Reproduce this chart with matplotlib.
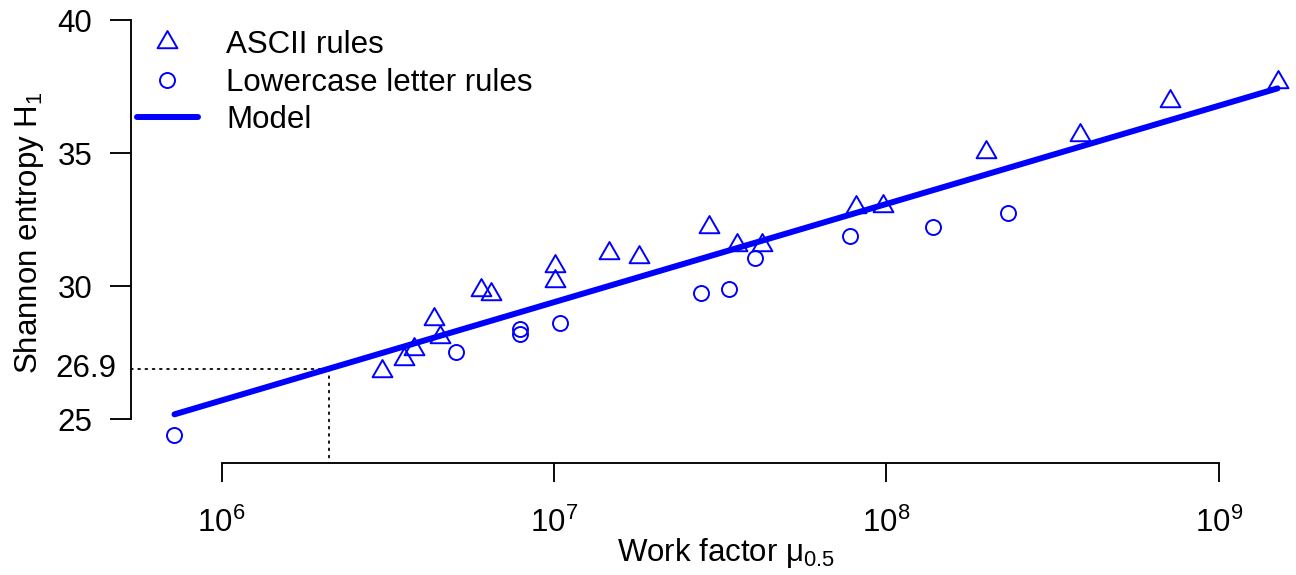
import numpy as np
import matplotlib
matplotlib.use('Agg')
import matplotlib.pyplot as plt
from matplotlib.path import Path
from matplotlib.lines import Line2D
from matplotlib.ticker import NullLocator

# ---------------- data ----------------
ascii_x = [3.03e6, 3.55e6, 3.79e6, 4.36e6, 4.54e6, 6.04e6, 6.45e6, 1.009e7, 1.009e7,
           1.467e7, 1.80e7, 2.92e7, 3.56e7, 4.22e7, 8.09e7, 9.76e7, 2.00e8, 3.82e8,
           7.13e8, 1.503e9]
ascii_h = [26.83, 27.27, 27.64, 28.78, 28.08, 29.85, 29.71, 30.75, 30.19,
           31.26, 31.08, 32.23, 31.54, 31.54, 32.98, 33.01, 35.05, 35.69,
           36.97, 37.68]
lower_x = [7.22e5, 5.07e6, 7.93e6, 7.88e6, 1.042e7, 2.77e7, 3.36e7, 4.03e7,
           7.75e7, 1.38e8, 2.32e8]
lower_h = [24.40, 27.53, 28.38, 28.20, 28.62, 29.75, 29.89, 31.05,
           31.88, 32.21, 32.77]
model_a = 3.57      # H = a + b*log10(mu)
model_b = 3.69
h_ref = 26.9
y_ticks = [25, 30, 35, 40]
x_ticks = [1e6, 1e7, 1e8, 1e9]
x_tick_labels = [r'$10^{6}$', r'$10^{7}$', r'$10^{8}$', r'$10^{9}$']
legend_labels = ['ASCII rules', 'Lowercase letter rules', 'Model']
xlabel = r'Work factor $\mu_{0.5}$'
ylabel = r'Shannon entropy $H_1$'

# ---------------- style ----------------
plt.rcParams['font.family'] = ['Liberation Sans', 'DejaVu Sans']
plt.rcParams['mathtext.fontset'] = 'custom'
plt.rcParams['mathtext.rm'] = 'Liberation Sans'
plt.rcParams['mathtext.it'] = 'Liberation Sans:italic'
plt.rcParams['mathtext.default'] = 'regular'

FS = 22.5
BLUE = '#0000FF'
LW_AX = 1.35

W, H = 1296, 575
fig = plt.figure(figsize=(W / 100, H / 100), dpi=100)

# plot region in pixels (R-like region that extends past the right edge)
px_left, px_right, px_top, px_bottom = 131, 1322, 3, 463
ax = fig.add_axes([px_left / W, (H - px_bottom) / H,
                   (px_right - px_left) / W, (px_bottom - px_top) / H])
ax.set_xscale('log')
dec = 332.4
x0px = 221.5
ax.set_xlim(10 ** (6 - (x0px - px_left) / dec), 10 ** (6 + (px_right - x0px) / dec))
ax.set_ylim(23.36, 40.64)

# triangle marker with centroid at origin (as R pch=2)
tri = Path([(0, 1), (-0.8660254, -0.5), (0.8660254, -0.5), (0, 1)],
           [Path.MOVETO, Path.LINETO, Path.LINETO, Path.CLOSEPOLY])

TRI_MS = 16.5
CIR_MS = 10.8
MEW = 1.4
LW_MODEL = 4.3

ax.plot(ascii_x, ascii_h, linestyle='none', marker=tri, ms=TRI_MS,
        mfc='none', mec=BLUE, mew=MEW, clip_on=False, zorder=3)
ax.plot(lower_x, lower_h, linestyle='none', marker='o', ms=CIR_MS,
        mfc='none', mec=BLUE, mew=MEW, clip_on=False, zorder=3)

all_x = np.array(ascii_x + lower_x)
mx = np.array([all_x.min(), all_x.max()])
ax.plot(mx, model_a + model_b * np.log10(mx), color=BLUE, lw=LW_MODEL,
        solid_capstyle='round', zorder=4)

# reference dotted lines
x_star = 10 ** ((h_ref - model_a) / model_b)
xl = ax.get_xlim()
yl = ax.get_ylim()
ax.plot([xl[0], x_star], [h_ref, h_ref], color='black', lw=1.3,
        linestyle=(0, (1, 3)), dash_capstyle='round', zorder=2)
ax.plot([x_star, x_star], [h_ref, yl[0]], color='black', lw=1.3,
        linestyle=(0, (1, 3)), dash_capstyle='round', zorder=2)

# axes
for s in ['top', 'right']:
    ax.spines[s].set_visible(False)
ax.spines['left'].set_bounds(25, 40)
ax.spines['bottom'].set_bounds(1e6, 1e9)
for s in ['left', 'bottom']:
    ax.spines[s].set_linewidth(LW_AX)
ax.set_yticks(y_ticks)
ax.set_xticks(x_ticks)
ax.set_xticklabels(x_tick_labels)
ax.xaxis.set_minor_locator(NullLocator())
ax.tick_params(axis='y', direction='out', length=15, width=LW_AX, labelsize=FS, pad=13)
ax.tick_params(axis='x', direction='out', length=14, width=LW_AX, labelsize=FS, pad=18.5)

ax.annotate(f'{h_ref}', xy=(0, h_ref), xycoords=('axes fraction', 'data'),
            xytext=(-10.5, 0), textcoords='offset points', ha='right', va='center',
            fontsize=FS)

fig.text(726.5 / W, 1 - 553 / H, xlabel, ha='center', va='center', fontsize=FS)
fig.text(29 / W, 1 - 233 / H, ylabel, rotation=90, ha='center', va='center', fontsize=FS)

# legend
handles = [
    Line2D([], [], linestyle='none', marker=tri, ms=TRI_MS, mfc='none', mec=BLUE, mew=MEW),
    Line2D([], [], linestyle='none', marker='o', ms=CIR_MS, mfc='none', mec=BLUE, mew=MEW),
    Line2D([], [], color=BLUE, lw=LW_MODEL, solid_capstyle='round'),
]
ax.legend(handles, legend_labels, loc='upper left',
          bbox_to_anchor=(137 / W, 1 - 30 / H), bbox_transform=fig.transFigure,
          frameon=False, fontsize=FS, handlelength=1.95, handletextpad=0.9,
          labelspacing=0.245, borderpad=0, borderaxespad=0, numpoints=1)

fig.savefig('out.png', dpi=100)
